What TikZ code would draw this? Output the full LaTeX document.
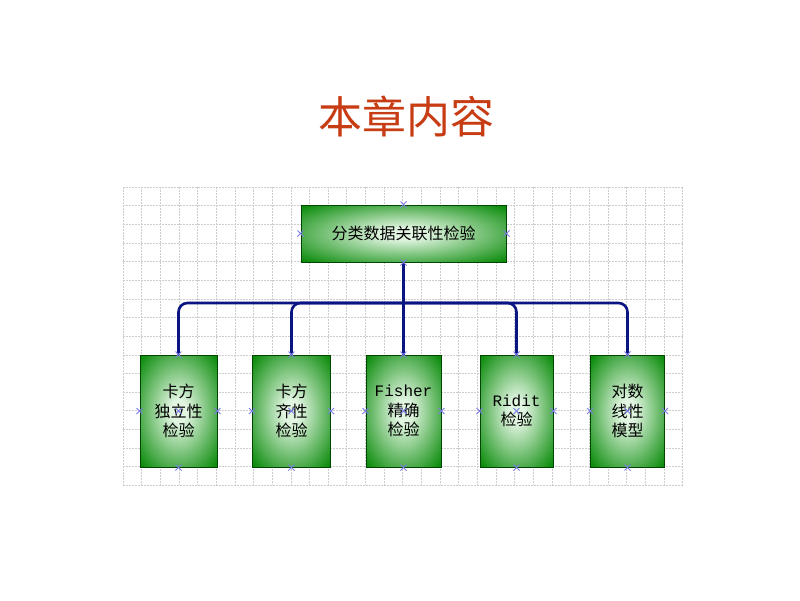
\documentclass[tikz,border=0pt]{standalone}
\usepackage{fontspec}
\newfontfamily\cjk{Noto Sans CJK SC}
\newfontfamily\latinmono{Liberation Mono}
\usetikzlibrary{shapes.misc}
\definecolor{titlered}{RGB}{200,60,20}
\definecolor{boxgreen}{RGB}{12,140,12}
\definecolor{boxlight}{RGB}{225,245,225}
\definecolor{boxedge}{RGB}{0,70,0}
\definecolor{linknavy}{RGB}{10,20,130}
\definecolor{pinblue}{RGB}{125,125,230}
\definecolor{gridgray}{RGB}{205,205,205}
\pgfdeclareradialshading{bevel}{\pgfpointorigin}{color(0bp)=(boxlight); color(5bp)=(boxlight); color(34bp)=(boxgreen); color(50bp)=(boxgreen)}

\begin{document}
\begin{tikzpicture}[x=1pt,y=-1pt,
    gridline/.style={gridgray, line width=0.7pt, dash pattern=on 2pt off 1pt},
    box/.style={draw=boxedge, line width=1pt, shading=bevel, inner sep=0pt,
        align=center, minimum height=112pt, font=\cjk\fontsize{16}{19.5}\selectfont},
    link/.style={linknavy, line width=2.6pt, rounded corners=9pt},
    pinmark/.style={cross out, draw=pinblue, line width=1pt, minimum size=5pt, inner sep=0pt}]
    \fill[white] (0,0) rectangle (800,600);
    \useasboundingbox (0,0) rectangle (800,600);

    \node[text=titlered, font=\cjk\fontsize{44}{44}\selectfont] (title) at (406,117) {本章内容};

    % background grid
    \foreach \i in {0,...,30}
        \draw[gridline] ({123+18.65*\i},187) -- ++(0,298.4);
    \foreach \j in {0,...,16}
        \draw[gridline] (123,{187+18.65*\j}) -- ++(559.5,0);

    % boxes
    \node[box, minimum width=205pt, minimum height=57pt] (root) at (403.5,233.5) {分类数据关联性检验};

    \node[box, minimum width=77pt] (c1) at (178.5,411) {卡方\\独立性\\检验};
    \node[box, minimum width=78pt] (c2) at (291.5,411) {卡方\\齐性\\检验};
    \node[box, minimum width=75pt] (c3) at (403.5,411) {{\latinmono Fisher}\\精确\\检验};
    \node[box, minimum width=73pt] (c4) at (516.5,411) {{\latinmono Ridit}\\检验};
    \node[box, minimum width=74pt] (c5) at (627.5,411) {对数\\线性\\模型};

    % connectors
    \coordinate (bus) at (403.5,303);
    \draw[link] (root.south) -- (bus);
    \foreach \c in {c1,c2,c3,c4,c5}
        \draw[link] (bus) -| (\c.north);

    % connection points
    \foreach \a in {north,south,east,west}
        \node[pinmark] (root-\a) at (root.\a) {};
    \foreach \c in {c1,c2,c3,c4,c5}
        \foreach \a in {north,south,east,west,center}
            \node[pinmark] (\c-\a) at (\c.\a) {};
\end{tikzpicture}
\end{document}
